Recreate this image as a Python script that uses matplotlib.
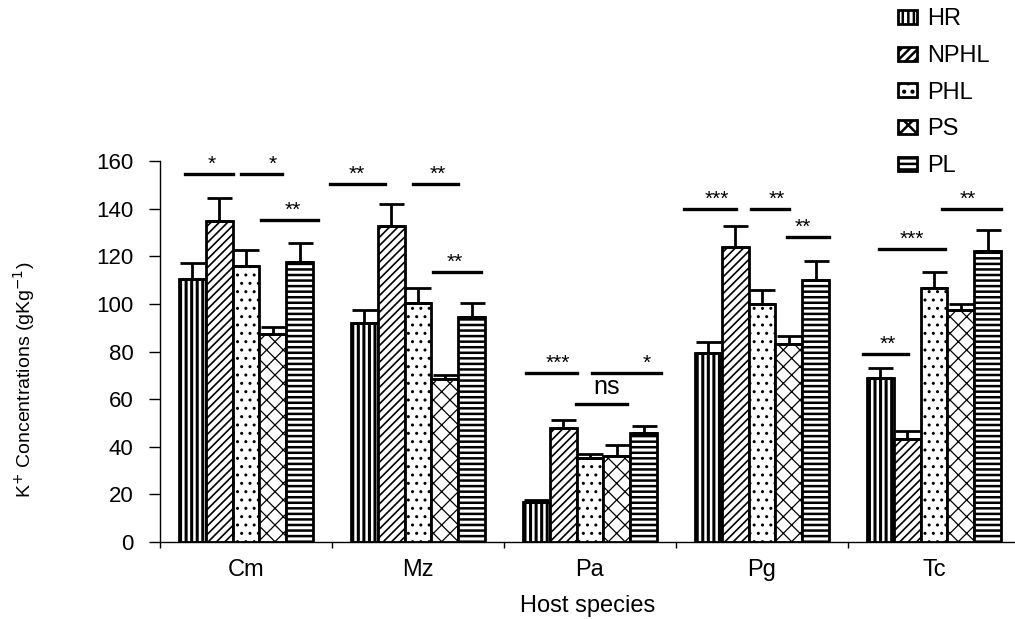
import numpy as np
import matplotlib
matplotlib.use('Agg')
import matplotlib.pyplot as plt

plt.rcParams['font.family'] = ['Liberation Sans', 'DejaVu Sans']

species = ['Cm', 'Mz', 'Pa', 'Pg', 'Tc']
groups = ['HR', 'NPHL', 'PHL', 'PS', 'PL']

# mean values and upper error (SE)
HR = [110.5, 92.0, 17.0, 79.5, 69.0]
HR_err = [6.5, 5.5, 0.6, 4.5, 4.0]
NPHL = [135.0, 132.5, 48.0, 124.0, 43.3]
NPHL_err = [9.5, 9.5, 3.2, 8.6, 3.2]
PHL = [116.0, 100.5, 35.3, 100.0, 106.7]
PHL_err = [6.5, 6.0, 1.8, 6.0, 6.6]
PS = [87.4, 68.5, 36.0, 83.0, 97.5]
PS_err = [3.0, 1.5, 4.6, 3.5, 2.5]
PL = [117.6, 94.5, 45.8, 110.0, 122.2]
PL_err = [8.0, 6.0, 3.0, 8.0, 8.8]

# significance bars: (group, start, end, height, label, text x) - offsets from group centre
sig = [
    (0, -0.355, -0.076, 154.6, '*', -0.198),
    (0, -0.030, 0.210, 154.6, '*', 0.157),
    (0, 0.087, 0.419, 135.2, '**', 0.273),
    (1, -0.512, -0.192, 150.4, '**', -0.355),
    (1, -0.029, 0.233, 150.4, '**', 0.116),
    (1, 0.087, 0.366, 113.4, '**', 0.215),
    (2, -0.372, -0.076, 71.0, '***', -0.186),
    (2, 0.012, 0.413, 71.0, '*', 0.331),
    (2, -0.081, 0.215, 58.0, 'ns', 0.099),
    (3, -0.453, -0.151, 139.9, '***', -0.262),
    (3, -0.064, 0.157, 139.9, '**', 0.087),
    (3, 0.145, 0.390, 128.0, '**', 0.238),
    (4, -0.413, -0.151, 79.0, '**', -0.267),
    (4, -0.320, 0.064, 123.0, '***', -0.128),
    (4, 0.047, 0.390, 140.0, '**', 0.198),
]

values = [HR, NPHL, PHL, PS, PL]
errors = [HR_err, NPHL_err, PHL_err, PS_err, PL_err]
hatches = ['|||', '////', '..', 'xx', '---']
hatch_lw = [2.2, 1.2, 1.0, 0.9, 1.8]

fig = plt.figure(figsize=(10.15, 6.19), dpi=100)
ax = fig.add_axes([160 / 1015, 77 / 619, 855 / 1015, 381 / 619])

x = np.arange(len(species))
w = 0.156
for i, g in enumerate(groups):
    plt.rcParams['hatch.linewidth'] = hatch_lw[i]
    pos = x + (i - 2) * w
    ax.bar(pos, values[i], w, color='white', edgecolor='black', linewidth=2.0,
           hatch=hatches[i], label=g, zorder=2)
    ax.errorbar(pos, values[i], yerr=[np.zeros(len(species)), errors[i]], fmt='none',
                ecolor='black', elinewidth=2.0, capsize=9, capthick=2.0, zorder=3)

for gi, a, b, h, lab, tx in sig:
    ax.plot([gi + a, gi + b], [h, h], color='black', lw=2.4, clip_on=False, zorder=4)
    if lab == 'ns':
        ax.annotate(lab, (gi + tx, h), xytext=(0, 12), textcoords='offset points',
                    ha='center', va='center', fontsize=18)
    else:
        ax.annotate(lab, (gi + tx, h), xytext=(0, 7), textcoords='offset points',
                    ha='center', va='center', fontsize=15)

ax.set_xlim(-0.5, 4.471)
ax.set_ylim(0, 160)
ax.set_yticks(np.arange(0, 161, 20))
ax.tick_params(axis='y', labelsize=16, length=8, width=1, pad=11)
ax.set_xticks(np.arange(-0.5, 4.5, 1.0))
ax.set_xticklabels([])
ax.set_xticks(x, minor=True)
ax.set_xticklabels(species, minor=True, fontsize=17)
ax.tick_params(axis='x', which='major', length=4, width=1)
ax.tick_params(axis='x', which='minor', length=0, pad=12)
ax.spines['top'].set_visible(False)
ax.spines['right'].set_visible(False)
ax.spines['left'].set_linewidth(1)
ax.spines['bottom'].set_linewidth(1)

ax.set_xlabel('Host species', fontsize=17, labelpad=10)
fig.text(0.024, 1 - 380 / 619, 'K$^{+}$ Concentrations (gKg$^{-1}$)', rotation=90,
         ha='center', va='center', fontsize=14)

fig.legend(loc='upper left', bbox_to_anchor=(889 / 1015, 1 + 1 / 619), frameon=False,
           fontsize=17, handlelength=0.8, handleheight=0.55, handletextpad=0.4,
           labelspacing=0.62, borderaxespad=0)

fig.savefig('out.png', dpi=100)
